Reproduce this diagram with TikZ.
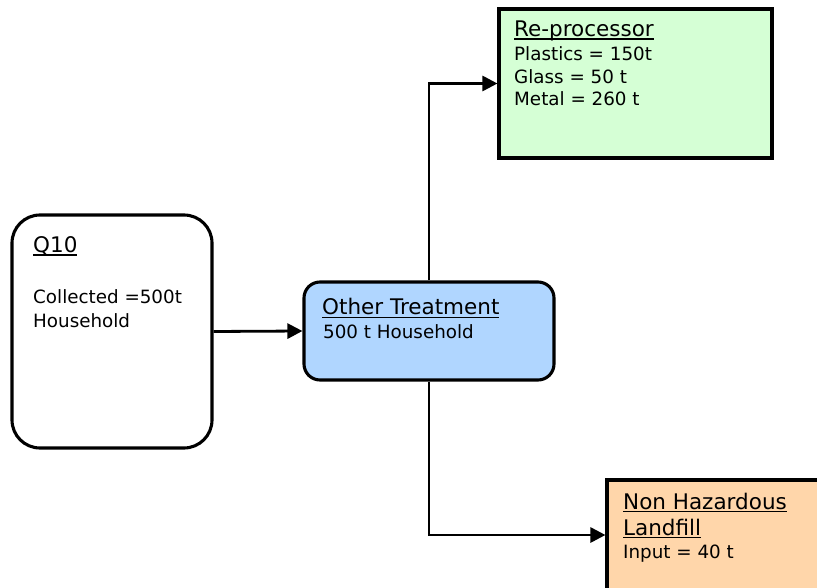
\documentclass[tikz,border=0pt]{standalone}
\usepackage{fontspec}
\setmainfont{DejaVu Sans}
\usetikzlibrary{arrows.meta}
\newcommand\myul[1]{\setbox0\hbox{#1}\rlap{\rule[-3.4pt]{\wd0}{1.9pt}}\box0}
\definecolor{greenfill}{RGB}{213,255,213}
\definecolor{bluefill}{RGB}{176,214,255}
\definecolor{orangefill}{RGB}{255,214,170}
\begin{document}
\begin{tikzpicture}[x=1pt,y=-1pt,
  box/.style={draw=black,line width=3.1pt,inner sep=0pt},
  title/.style={anchor=base west,inner sep=0pt,font=\fontsize{21.5}{26}\selectfont},
  body/.style={anchor=base west,inner sep=0pt,font=\fontsize{18.3}{22}\selectfont},
  conn/.style={line width=2.8pt,-{Triangle[length=15pt,width=15pt]}}]
\useasboundingbox (0,0) rectangle (817,588);
\clip (0,0) rectangle (817,588);
\fill[white] (0,0) rectangle (817,588);
% boxes
\node[box,fill=white,rounded corners=28pt,minimum width=200pt,minimum height=233pt] (q10) at (112,331.5) {};
\node[box,fill=bluefill,rounded corners=16pt,minimum width=250pt,minimum height=98pt] (other) at (429,331) {};
\node[box,fill=greenfill,minimum width=273pt,minimum height=149pt] (reproc) at (635.5,83.5) {};
\node[box,fill=orangefill,minimum width=230pt,minimum height=110pt] (landfill) at (722,535) {};
% texts
\node[title] (q10t) at (33,253) {\myul{Q10}};
\node[body] (q10a) at (33,304) {Collected =500t};
\node[body] (q10b) at (33,327) {Household};
\node[title] (othert) at (322,315) {\myul{Other Treatment}};
\node[body] (othera) at (323,338) {500 t Household};
\node[title] (rept) at (514,37) {\myul{Re-processor}};
\node[body] (repa) at (514,61) {Plastics = 150t};
\node[body] (repb) at (514,84) {Glass = 50 t};
\node[body] (repc) at (514,106) {Metal = 260 t};
\node[title] (lft) at (623,509) {\myul{Non Hazardous}};
\node[title] (lfu) at (623,535) {\myul{Landfill}};
\node[body] (lfa) at (623,558) {Input = 40 t};
% connectors
\draw[conn] (q10.east) -- (other.west);
\draw[conn] (other.north) |- (reproc.west);
\draw[conn] (other.south) |- (landfill.west);
\end{tikzpicture}
\end{document}
